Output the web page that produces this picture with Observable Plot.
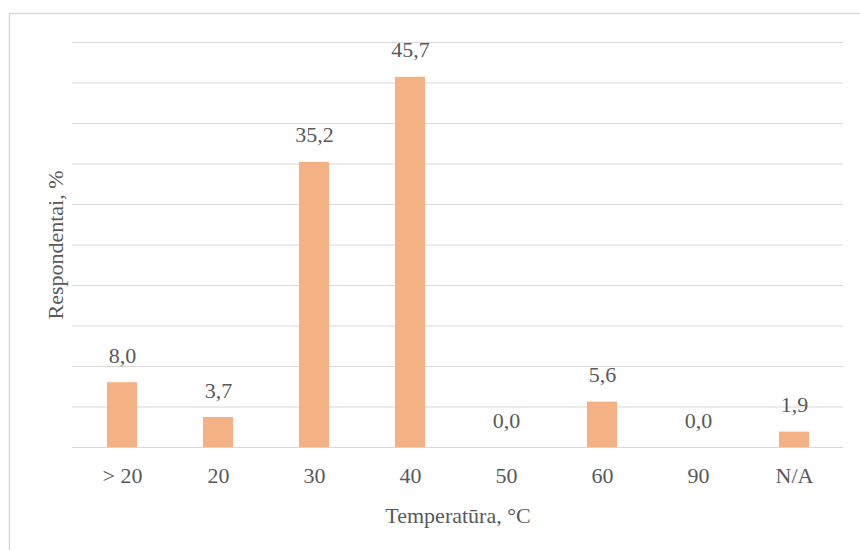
<!DOCTYPE html>
<html>
<head>
<meta charset="utf-8">
<script src="https://cdn.jsdelivr.net/npm/d3@7"></script>
<script src="https://cdn.jsdelivr.net/npm/@observablehq/plot@0.6"></script>
<style>
  html, body { margin: 0; padding: 0; background: #fff; }
  #chart svg { display: block; }
  #chart svg text { font-family: "Liberation Serif", "DejaVu Serif", "Times New Roman", serif !important; }
</style>
</head>
<body>
<div id="chart"></div>
<script>
// Survey: preferred washing temperature
const categories = ["> 20", "20", "30", "40", "50", "60", "90", "N/A"];
const values = [8.0, 3.7, 35.2, 45.7, 0.0, 5.6, 0.0, 1.9];
const gridTicks = [0, 5, 10, 15, 20, 25, 30, 35, 40, 45, 50];
const xTitle = "Temperatūra, °C";
const yTitle = "Respondentai, %";

const data = categories.map((c, i) => ({category: c, value: values[i]}));
const fmt = v => v.toFixed(1).replace(".", ",");

const textColor = "#595959";
const font = "'Liberation Serif', 'DejaVu Serif', 'Times New Roman', serif";
const fs = 22;

const chart = Plot.plot({
  width: 860,
  height: 550,
  marginLeft: 72,
  marginRight: 17,
  marginTop: 42,
  marginBottom: 103,
  style: {fontFamily: font, fontSize: fs + "px", color: textColor, background: "#fff"},
  x: {domain: categories, paddingInner: 0.69, paddingOuter: 0.345, label: null},
  y: {domain: [0, 50], label: null},
  marks: [
    Plot.gridY(gridTicks, {stroke: "#d9d9d9", strokeOpacity: 1, strokeWidth: 1.2}),
    Plot.barY(data, {x: "category", y: "value", fill: "#f4b183"}),
    Plot.text(data, {
      x: "category", y: "value", text: d => fmt(d.value),
      dy: -27, fill: textColor, fontSize: fs, fontFamily: font, lineAnchor: "middle"
    }),
    Plot.axisX({tickSize: 0, tickPadding: 20, fontSize: fs, fontFamily: font, color: textColor, label: null}),
    Plot.axisY({ticks: [], tickSize: 0, label: null}),
    Plot.text([xTitle], {
      frameAnchor: "bottom", dy: 68, fill: textColor, fontSize: fs, fontFamily: font, lineAnchor: "middle"
    }),
    Plot.text([yTitle], {
      frameAnchor: "left", dx: -17, rotate: -90, textAnchor: "middle",
      fill: textColor, fontSize: fs, fontFamily: font, lineAnchor: "middle"
    })
  ]
});

// light outer chart border
d3.select(chart).insert("rect", ":first-child")
  .attr("x", 9.5).attr("y", 13.5)
  .attr("width", 870).attr("height", 560)
  .attr("fill", "none").attr("stroke", "#d9d9d9").attr("stroke-width", 1.5);

document.getElementById("chart").appendChild(chart);
</script>
</body>
</html>
